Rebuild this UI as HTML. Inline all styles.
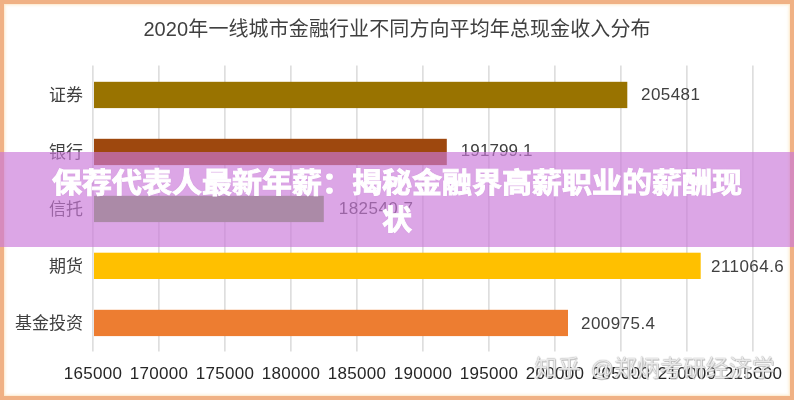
<!DOCTYPE html>
<html lang="zh-CN">
<head>
<meta charset="utf-8">
<title>保荐代表人最新年薪：揭秘金融界高薪职业的薪酬现状</title>
<style>
html,body{margin:0;padding:0;}
body{width:794px;height:400px;position:relative;overflow:hidden;background:#fff;font-family:"Liberation Sans","Noto Sans CJK SC",sans-serif;color:#404040;}
.frame{position:absolute;left:0;top:0;width:786px;height:392px;border:4px solid #f0b184;box-shadow:inset 0 0 2px 1px rgba(250,222,185,.65),inset 0 0 5px 1px rgba(255,246,225,.6);z-index:5;pointer-events:none;}
.title{position:absolute;left:0;top:13.5px;width:794px;text-align:center;font-size:20px;line-height:30px;color:#404040;white-space:nowrap;letter-spacing:0.1px;}
.cat{position:absolute;left:0;width:82.9px;text-align:right;font-size:17px;line-height:26px;height:26px;color:#404040;white-space:nowrap;}
.val{position:absolute;letter-spacing:.45px;font-size:17px;line-height:26px;height:26px;color:#404040;white-space:nowrap;}
.ax{position:absolute;top:360.8px;width:80px;margin-left:-40px;text-align:center;letter-spacing:.3px;font-size:17px;line-height:26px;color:#262626;white-space:nowrap;}
.wm{position:absolute;left:534.5px;top:352.5px;font-size:22.8px;line-height:30px;color:rgba(255,255,255,.82);text-shadow:0 0 1px rgba(110,110,110,.95),1px 1px 0 rgba(150,150,150,.45);white-space:nowrap;letter-spacing:0.2px;word-spacing:3.5px;z-index:3;}
.band{position:absolute;left:0;top:152px;width:794px;height:95px;background:rgba(202,120,217,.66);z-index:6;}
.band h1{margin:0;padding:11.2px 40px 0 40px;font-size:30px;line-height:39px;font-weight:bold;color:#fff;text-align:center;-webkit-text-stroke:1px #fff;transform:scaleY(.94);transform-origin:50% 50%;text-shadow:0 0 2px rgba(140,60,160,.18);font-family:"Liberation Sans","Noto Sans CJK SC",sans-serif;}
</style>
</head>
<body>
<div class="title">2020年一线城市金融行业不同方向平均年总现金收入分布</div>

<svg class="gridsvg" width="794" height="400" viewBox="0 0 794 400" style="position:absolute;left:0;top:0" fill="none" stroke="#cfcfcf" stroke-width="1.15"><line x1="92.9" y1="65.4" x2="92.9" y2="351.4"/><line x1="158.9" y1="65.4" x2="158.9" y2="351.4"/><line x1="224.9" y1="65.4" x2="224.9" y2="351.4"/><line x1="290.9" y1="65.4" x2="290.9" y2="351.4"/><line x1="356.9" y1="65.4" x2="356.9" y2="351.4"/><line x1="422.9" y1="65.4" x2="422.9" y2="351.4"/><line x1="488.9" y1="65.4" x2="488.9" y2="351.4"/><line x1="554.9" y1="65.4" x2="554.9" y2="351.4"/><line x1="620.9" y1="65.4" x2="620.9" y2="351.4"/><line x1="686.9" y1="65.4" x2="686.9" y2="351.4"/><line x1="752.9" y1="65.4" x2="752.9" y2="351.4"/><rect x="94" y="81.8" width="533.3" height="26.3" fill="#997300" stroke="none"/><rect x="94" y="138.8" width="352.8" height="26.3" fill="#9e480e" stroke="none"/><rect x="94" y="195.8" width="229.8" height="26.3" fill="#70ad47" stroke="none"/><rect x="94" y="252.7" width="606.7" height="26.3" fill="#ffc000" stroke="none"/><rect x="94" y="309.8" width="474.0" height="26.3" fill="#ed7d31" stroke="none"/></svg>


<div class="cat" style="top:82.6px">证券</div>
<div class="cat" style="top:139.5px">银行</div>
<div class="cat" style="top:196.6px">信托</div>
<div class="cat" style="top:253.7px">期货</div>
<div class="cat" style="top:311.1px">基金投资</div>

<div class="val" style="top:82.4px;left:641px">205481</div>
<div class="val" style="top:138px;left:460.8px;letter-spacing:.1px">191799.1</div>
<div class="val" style="top:195.9px;left:338.8px">182540.7</div>
<div class="val" style="top:253.7px;left:711px">211064.6</div>
<div class="val" style="top:310.9px;left:581px">200975.4</div>

<div class="ax" style="left:93px">165000</div>
<div class="ax" style="left:159px">170000</div>
<div class="ax" style="left:225px">175000</div>
<div class="ax" style="left:291px">180000</div>
<div class="ax" style="left:357px">185000</div>
<div class="ax" style="left:423px">190000</div>
<div class="ax" style="left:489px">195000</div>
<div class="ax" style="left:555px">200000</div>
<div class="ax" style="left:621px">205000</div>
<div class="ax" style="left:687px">210000</div>
<div class="ax" style="left:753px">215000</div>

<div class="wm">知乎 @郑炳考研经济学</div>

<div class="band"><h1>保荐代表人最新年薪：揭秘金融界高薪职业的薪酬现状</h1></div>
<div class="frame"></div>
</body>
</html>
